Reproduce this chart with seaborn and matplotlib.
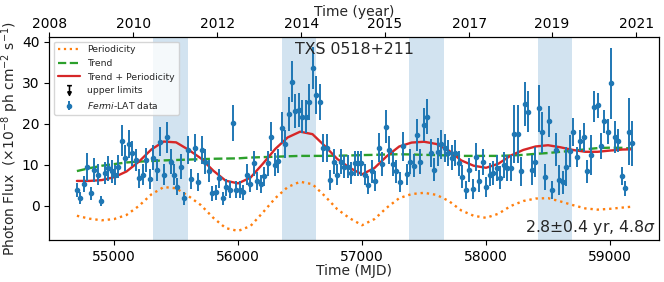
import numpy as np
import pandas as pd
import seaborn as sns
import matplotlib.pyplot as plt
from matplotlib.lines import Line2D
from matplotlib.path import Path

# Fermi-LAT light curve, 28-day bins starting at MJD 54699
bin_start = 54699
bin_width = 28
flux = [3.9, 2.0, 5.3, 9.5, 3.1, 8.8, 7.6, 1.3, 8.0, 9.2,
        8.5, 7.6, 9.6, 15.9, 11.6, 15.0, 12.8, 11.2, 6.7, 7.6,
        11.2, 6.6, 11.8, 8.8, 15.7, 7.6, 16.7, 10.8, 7.6, 4.7,
        9.6, 1.9, 13.7, 6.6, 14.2, 5.9, 13.7, 10.8, 8.5, 3.1,
        3.3, 6.7, 1.9, 4.5, 4.0, 20.2, 4.0, 4.0, 3.3, 7.6,
        5.3, 10.4, 6.1, 5.3, 7.2, 10.4, 16.9, 10.0, 11.0, 19.1,
        15.0, 22.4, 30.3, 23.2, 23.4, 21.8, 21.8, 25.3, 33.6, 27.1,
        25.3, 14.1, 14.1, 6.3, 10.8, 7.6, 10.8, 9.6, 9.6, 8.0,
        10.4, 10.4, 10.4, 7.6, 5.0, 8.5, 6.1, 14.2, 10.2, 19.3,
        13.7, 10.2, 8.4, 5.9, 14.5, 7.7, 10.8, 9.8, 17.3, 10.8,
        19.8, 21.8, 12.9, 8.8, 13.1, 15.0, 14.2, 12.9, 11.8, 12.9,
        10.4, 7.1, 3.9, 8.8, 4.1, 12.0, 6.1, 10.8, 4.7, 7.6,
        8.0, 9.2, 6.9, 10.0, 9.2, 9.3, 17.5, 17.5, 8.4, 24.8,
        23.0, 8.8, 10.7, 23.8, 18.0, 7.1, 20.6, 3.9, 13.7, 6.3,
        5.8, 9.6, 13.4, 18.0, 12.0, 15.9, 16.7, 8.4, 12.4, 24.2,
        24.5, 14.6, 20.7, 18.1, 29.9, 16.9, 15.9, 7.4, 4.3, 18.1,
        15.3]
flux_err = [1.8, 1.5, 2.0, 3.5, 1.6, 3.0, 2.6, 1.2, 2.6, 3.0,
            2.8, 2.4, 2.8, 3.8, 3.2, 3.4, 3.0, 2.8, 2.4, 2.6,
            3.0, 2.4, 3.0, 2.6, 3.6, 2.6, 3.8, 3.0, 2.6, 2.0,
            3.0, 1.6, 3.4, 2.4, 3.4, 2.2, 3.4, 3.0, 2.6, 1.8,
            1.8, 2.4, 1.6, 2.0, 2.0, 4.4, 2.0, 2.0, 1.8, 2.6,
            2.0, 3.0, 2.2, 2.2, 2.4, 3.0, 3.6, 2.8, 3.0, 3.8,
            3.4, 4.2, 5.0, 4.2, 4.2, 4.0, 4.0, 4.4, 5.2, 4.6,
            4.4, 3.4, 3.4, 2.4, 3.0, 2.6, 3.0, 2.8, 2.8, 2.6,
            3.0, 3.0, 3.0, 2.6, 2.2, 2.8, 2.4, 3.6, 3.0, 4.0,
            3.4, 3.0, 2.8, 2.4, 3.6, 2.6, 3.0, 2.8, 3.8, 3.0,
            4.0, 4.2, 3.4, 2.8, 3.4, 3.6, 3.4, 3.2, 3.0, 3.2,
            3.0, 2.8, 2.2, 3.0, 2.4, 3.4, 2.6, 3.2, 2.4, 2.8,
            3.0, 3.2, 2.8, 3.2, 3.2, 3.2, 7.0, 7.0, 3.6, 5.3,
            5.0, 3.6, 3.6, 5.7, 5.0, 3.2, 3.7, 2.2, 4.0, 3.6,
            2.8, 4.7, 3.9, 3.5, 2.4, 2.6, 3.5, 2.8, 4.9, 3.8,
            3.0, 3.1, 2.8, 3.0, 8.7, 3.9, 2.8, 2.2, 1.8, 8.1,
            5.5]

# model curves
curve_mjd = [54700, 54800, 54900, 55000, 55100, 55200, 55300, 55400, 55500, 55600,
             55700, 55800, 55900, 56000, 56100, 56200, 56300, 56400, 56500, 56600,
             56700, 56800, 56900, 57000, 57100, 57200, 57300, 57400, 57500, 57600,
             57700, 57800, 57900, 58000, 58100, 58200, 58300, 58400, 58500, 58600,
             58700, 58800, 58900, 59000, 59100, 59170]
periodicity = [-2.4, -3.1, -3.5, -3.2, -2.2, 0.0, 2.8, 4.6, 4.3, 2.4,
               0.2, -2.9, -5.4, -6.1, -4.9, -1.6, 1.9, 4.6, 5.9, 5.3,
               2.4, -0.8, -3.0, -4.7, -3.2, -0.4, 1.9, 2.9, 3.2, 2.7,
               1.2, -1.1, -2.4, -2.9, -1.9, 0.0, 1.2, 1.8, 1.9, 1.1,
               0.2, -0.6, -0.9, -0.7, -0.4, -0.2]
trend = [8.5, 9.2, 9.8, 10.2, 10.6, 10.8, 10.95, 11.1, 11.2, 11.3,
         11.4, 11.5, 11.55, 11.6, 11.8, 11.9, 12.0, 12.1, 12.2, 12.2,
         12.2, 12.25, 12.3, 12.4, 12.45, 12.55, 12.6, 12.55, 12.45, 12.4,
         12.3, 12.2, 12.2, 12.2, 12.2, 12.3, 12.45, 12.7, 12.9, 13.2,
         13.45, 13.8, 14.1, 14.2, 14.15, 14.0]

# high states (shaded)
high_start = [55315, 56355, 57379, 58419]
high_end = [55597, 56629, 57661, 58694]

year_tick_mjd = [54476, 55153, 55831, 56508, 57185, 57863, 58532, 59210]
year_labels = ['2008', '2010', '2012', '2014', '2015', '2017', '2019', '2021']


def main():
    sns.set_style('ticks')
    plt.rcParams['font.family'] = ['DejaVu Sans']
    plt.rcParams['axes.edgecolor'] = 'black'
    plt.rcParams['xtick.color'] = 'black'
    plt.rcParams['ytick.color'] = 'black'

    mjd = bin_start + bin_width * np.arange(len(flux))
    curves = pd.DataFrame({'MJD': curve_mjd, 'Periodicity': periodicity, 'Trend': trend})
    curves['Trend + Periodicity'] = curves['Trend'] + curves['Periodicity']

    fig = plt.figure(figsize=(6.64, 2.82), dpi=100)
    ax = fig.add_axes([0.074, 0.149, 0.9185, 0.72])

    for a, b in zip(high_start, high_end):
        ax.axvspan(a, b, color='#1f77b4', alpha=0.2, lw=0)

    sns.lineplot(data=curves, x='MJD', y='Periodicity', ax=ax, color='#ff7f0e',
                 linestyle=':', linewidth=1.7)
    sns.lineplot(data=curves, x='MJD', y='Trend', ax=ax, color='#2ca02c',
                 linestyle='--', linewidth=1.7)
    sns.lineplot(data=curves, x='MJD', y='Trend + Periodicity', ax=ax,
                 color='#d62728', linewidth=1.7)
    data = ax.errorbar(mjd, flux, yerr=flux_err, fmt='o', ms=3, color='#1f77b4',
                       elinewidth=1.4, capsize=0)

    ax.set_xlim(54476, 59395)
    ax.set_ylim(-8.3, 41.2)
    ax.set_xticks([55000, 56000, 57000, 58000, 59000])
    ax.set_yticks([0, 10, 20, 30, 40])
    ax.tick_params(labelsize=10, length=3.5, width=0.8, pad=3.5)
    ax.set_xlabel('Time (MJD)', fontsize=10, labelpad=0)
    ax.set_ylabel(r'Photon Flux  (×10$^{-8}$ ph cm$^{-2}$ s$^{-1}$)', fontsize=10, labelpad=0.5)

    ax.text(0.5, 0.975, 'TXS 0518+211', transform=ax.transAxes, ha='center',
            va='top', fontsize=11.3)
    ax.text(0.995, 0.015, r'2.8$\pm$0.4 yr, 4.8$\sigma$', transform=ax.transAxes,
            ha='right', va='bottom', fontsize=11.3)

    # upper limit symbol for the legend
    ul_path = Path([(-0.5, 1), (0.5, 1), (0, 1), (0, -0.3),
                    (-0.35, -0.3), (0, -1), (0.35, -0.3), (-0.35, -0.3)],
                   [Path.MOVETO, Path.LINETO, Path.MOVETO, Path.LINETO,
                    Path.MOVETO, Path.LINETO, Path.LINETO, Path.CLOSEPOLY])
    handles = [
        Line2D([], [], color='#ff7f0e', linestyle=':', linewidth=1.6),
        Line2D([], [], color='#2ca02c', linestyle='--', linewidth=1.6),
        Line2D([], [], color='#d62728', linewidth=1.6),
        Line2D([], [], color='k', marker=ul_path, linestyle='none',
               markersize=7, markeredgewidth=1.1),
        data,
    ]
    labels = ['Periodicity', 'Trend', 'Trend + Periodicity', 'upper limits',
              r'$\it{Fermi}$-LAT data']
    ax.legend(handles, labels, loc='upper left', fontsize=6.7,
              handlelength=2.4, borderaxespad=0.5)

    ax2 = ax.twiny()
    ax2.set_xlim(ax.get_xlim())
    ax2.set_xticks(year_tick_mjd)
    ax2.set_xticklabels(year_labels)
    ax2.tick_params(labelsize=10, length=3.5, width=0.8, pad=0.5)
    ax2.set_xlabel('Time (year)', fontsize=10, labelpad=1)

    fig.savefig('out.png', dpi=100)
    plt.close(fig)


if __name__ == '__main__':
    main()
